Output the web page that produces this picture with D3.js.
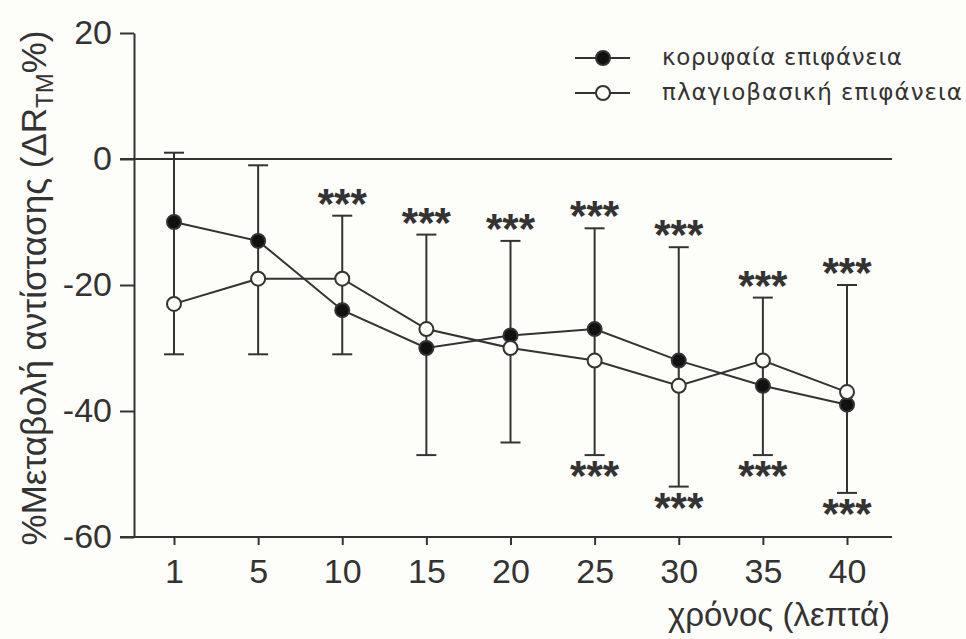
<!DOCTYPE html>
<html>
<head>
<meta charset="utf-8">
<script src="https://cdn.jsdelivr.net/npm/d3@7"></script>
<style>
  body { margin: 0; background: #fdfdf9; }
  svg { display: block; }
  text { font-family: "Liberation Sans", Arial, sans-serif; fill: #333; }
</style>
</head>
<body>
<svg id="chart" width="966" height="639"></svg>
<script>
// time points (minutes)
const times = ['1', '5', '10', '15', '20', '25', '30', '35', '40'];
// κορυφαία επιφάνεια (filled)
const apical = [-10, -13, -24, -30, -28, -27, -32, -36, -39];
// πλαγιοβασική επιφάνεια (open)
const lateral = [-23, -19, -19, -27, -30, -32, -36, -32, -37];
// error bar ends
const capHigh = [1, -1, -9, -12, -13, -11, -14, -22, -20];
const capLow = [-31, -31, -31, -47, -45, -47, -52, -47, -53];
// significance marks
const starsAbove = [false, false, true, true, true, true, true, true, true];
const starsBelow = [false, false, false, false, false, true, true, true, true];
const yTicks = [20, 0, -20, -40, -60];
const legendLabels = ['κορυφαία επιφάνεια', 'πλαγιοβασική επιφάνεια'];

const ink = '#333';
const svg = d3.select('#chart');

const x = d3.scalePoint().domain(times).range([174, 847]);
const y = d3.scaleLinear().domain([-60, 20]).range([537, 33]);

//axes
const yAxis = svg.append('g')
    .attr('transform', 'translate(134,0)')
    .call(d3.axisLeft(y).tickValues(yTicks).tickFormat(d => String(d))
        .tickSize(14).tickSizeOuter(0).tickPadding(8));
yAxis.selectAll('text').style('font-size', '34px').attr('fill', ink);

const xAxis = svg.append('g')
    .attr('transform', 'translate(0,537)')
    .call(d3.axisBottom(x).tickSize(8).tickSizeOuter(0).tickPadding(14));
xAxis.select('.domain').attr('d', 'M120,0H892');
xAxis.selectAll('text').style('font-size', '34px').attr('fill', ink);

svg.selectAll('.domain, .tick line').attr('stroke', ink).attr('stroke-width', 2);

//zero line
svg.append('line')
    .attr('x1', 120).attr('x2', 892)
    .attr('y1', y(0)).attr('y2', y(0))
    .attr('stroke', ink).attr('stroke-width', 2);

//error bars
const idx = d3.range(times.length);
const eb = svg.append('g').attr('stroke', ink).attr('stroke-width', 2);
eb.selectAll('line.v').data(idx).join('line')
    .attr('x1', i => x(times[i])).attr('x2', i => x(times[i]))
    .attr('y1', i => y(capHigh[i])).attr('y2', i => y(capLow[i]));
eb.selectAll('line.hi').data(idx).join('line')
    .attr('x1', i => x(times[i]) - 10).attr('x2', i => x(times[i]) + 10)
    .attr('y1', i => y(capHigh[i])).attr('y2', i => y(capHigh[i]));
eb.selectAll('line.lo').data(idx).join('line')
    .attr('x1', i => x(times[i]) - 10).attr('x2', i => x(times[i]) + 10)
    .attr('y1', i => y(capLow[i])).attr('y2', i => y(capLow[i]));

//series lines and markers
const line = d3.line().x((d, i) => x(times[i])).y(d => y(d));
const series = [
    { values: apical, fill: '#111' },
    { values: lateral, fill: '#fdfdf9' }
];
series.forEach(s => {
    svg.append('path')
        .attr('d', line(s.values))
        .attr('fill', 'none')
        .attr('stroke', ink)
        .attr('stroke-width', 2);
});
series.forEach(s => {
    svg.append('g').selectAll('circle').data(s.values).join('circle')
        .attr('cx', (d, i) => x(times[i]))
        .attr('cy', d => y(d))
        .attr('r', 7)
        .attr('fill', s.fill)
        .attr('stroke', ink)
        .attr('stroke-width', 2);
});

//stars
svg.append('g').selectAll('text').data(idx.filter(i => starsAbove[i])).join('text')
    .attr('x', i => x(times[i]))
    .attr('y', i => y(capHigh[i]) + 2)
    .attr('text-anchor', 'middle')
    .style('font-size', '42px')
    .style('font-weight', 'bold')
    .text('***');
svg.append('g').selectAll('text').data(idx.filter(i => starsBelow[i])).join('text')
    .attr('x', i => x(times[i]))
    .attr('y', i => y(capLow[i]) + 35)
    .attr('text-anchor', 'middle')
    .style('font-size', '42px')
    .style('font-weight', 'bold')
    .text('***');

//legend
const legend = svg.append('g');
const legendWidths = [240, 300];
legendLabels.forEach((label, k) => {
    const ly = 58 + k * 35;
    legend.append('line')
        .attr('x1', 575).attr('x2', 630).attr('y1', ly).attr('y2', ly)
        .attr('stroke', ink).attr('stroke-width', 2);
    legend.append('circle')
        .attr('cx', 603).attr('cy', ly).attr('r', 7)
        .attr('fill', series[k].fill).attr('stroke', ink).attr('stroke-width', 2);
    legend.append('text')
        .attr('x', 662).attr('y', ly + 7)
        .attr('textLength', legendWidths[k])
        .attr('lengthAdjust', 'spacing')
        .style('font-family', '"DejaVu Sans", sans-serif')
        .style('font-size', '23px')
        .text(label);
});

//axis titles
svg.append('text')
    .attr('x', 890).attr('y', 626)
    .attr('text-anchor', 'end')
    .style('font-size', '33px')
    .text('χρόνος (λεπτά)');

const yt = svg.append('text')
    .attr('transform', 'translate(46,288) rotate(-90)')
    .attr('text-anchor', 'middle')
    .style('font-size', '35px');
yt.append('tspan').text('%Μεταβολή αντίστασης (ΔR');
yt.append('tspan').attr('dy', 7).style('font-size', '24px').text('TM');
yt.append('tspan').attr('dy', -7).text('%)');
</script>
</body>
</html>
